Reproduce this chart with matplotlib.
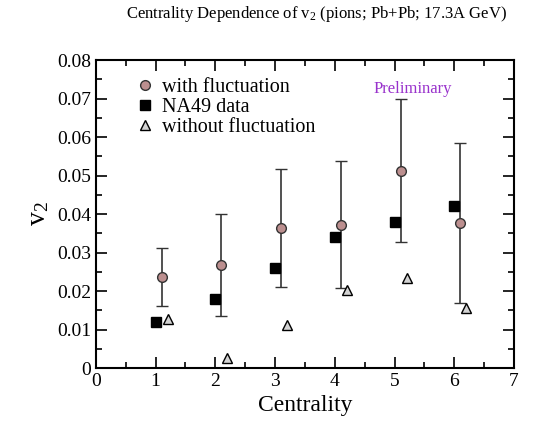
import matplotlib
matplotlib.use("Agg")
import matplotlib.pyplot as plt
from matplotlib.lines import Line2D
from matplotlib.ticker import MultipleLocator, FuncFormatter

plt.rcParams["font.family"] = ["Liberation Serif", "DejaVu Serif"]
plt.rcParams["mathtext.fontset"] = "custom"
plt.rcParams["mathtext.rm"] = "Liberation Serif"
plt.rcParams["mathtext.it"] = "Liberation Serif"

# data
fluct_x = [1.1, 2.1, 3.1, 4.1, 5.1, 6.1]
fluct_y = [0.0237, 0.0268, 0.0363, 0.0372, 0.0513, 0.0376]
fluct_lo = [0.0162, 0.0135, 0.0210, 0.0207, 0.0327, 0.0170]
fluct_hi = [0.0312, 0.0399, 0.0516, 0.0537, 0.0700, 0.0585]

na49_x = [1, 2, 3, 4, 5, 6]
na49_y = [0.012, 0.018, 0.026, 0.034, 0.038, 0.042]

nofl_x = [1.2, 2.2, 3.2, 4.2, 5.2, 6.2]
nofl_y = [0.0128, 0.0025, 0.0113, 0.0202, 0.0235, 0.0157]

fig = plt.figure(figsize=(5.54, 4.23), dpi=100)
ax = fig.add_axes([0.173, 0.130, 0.755, 0.728])

circ_style = dict(marker="o", markersize=7, markerfacecolor="#bc8f8f",
                  markeredgecolor="#333333", markeredgewidth=1, linestyle="none")
sq_style = dict(marker="s", markersize=7.5, color="black", linestyle="none")
tri_style = dict(marker="^", markersize=7, markerfacecolor="#d3d3d3",
                 markeredgecolor="black", markeredgewidth=1, linestyle="none")

yerr = [[y - lo for y, lo in zip(fluct_y, fluct_lo)],
        [hi - y for y, hi in zip(fluct_y, fluct_hi)]]
ax.errorbar(fluct_x, fluct_y, yerr=yerr, ecolor="#333333", elinewidth=1.2,
            capsize=4, capthick=1.2, zorder=3, **circ_style)
ax.plot(na49_x, na49_y, zorder=4, **sq_style)
ax.plot(nofl_x, nofl_y, zorder=4, **tri_style)

ax.set_xlim(0, 7)
ax.set_ylim(0, 0.08)
ax.xaxis.set_major_locator(MultipleLocator(1))
ax.xaxis.set_minor_locator(MultipleLocator(0.5))
ax.yaxis.set_major_locator(MultipleLocator(0.01))
ax.yaxis.set_minor_locator(MultipleLocator(0.005))
ax.yaxis.set_major_formatter(FuncFormatter(lambda v, p: "0" if abs(v) < 1e-9 else "%.2f" % v))
ax.tick_params(which="both", direction="in", top=True, right=True, width=1.2)
ax.tick_params(which="major", length=8, labelsize=14)
ax.tick_params(which="minor", length=4)
for s in ax.spines.values():
    s.set_linewidth(1.5)

ax.set_xlabel("Centrality", fontsize=17)
ax.set_ylabel(r"v$_2$", fontsize=20)

ax.text(5.3, 0.0725, "Preliminary", color="#9932cc", fontsize=12, ha="center", va="center")

handles = [Line2D([], [], **circ_style), Line2D([], [], **sq_style), Line2D([], [], **tri_style)]
labels = ["with fluctuation", "NA49 data", "without fluctuation"]
ax.legend(handles, labels, loc="upper left", bbox_to_anchor=(0.05, 1.0), frameon=False,
          fontsize=14.5, handletextpad=0.35, labelspacing=0.05, handlelength=1.0)

fig.suptitle(r"Centrality Dependence of v$_2$ (pions; Pb+Pb; 17.3A GeV)",
             fontsize=12, x=0.571, y=0.99)

fig.savefig("out.png", dpi=100)
